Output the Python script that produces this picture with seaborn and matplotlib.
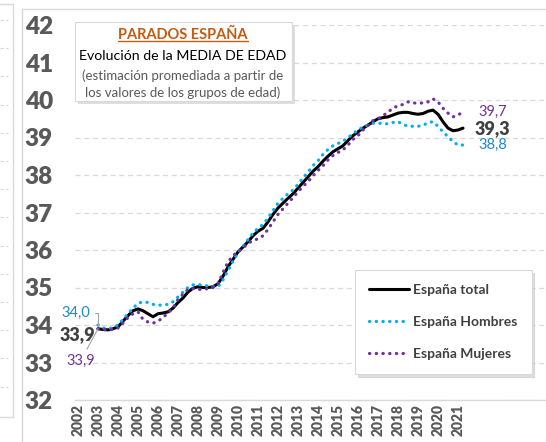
"""
Parados España: evolución de la media de edad (total, hombres, mujeres).
"""

import numpy as np
import pandas as pd
import matplotlib
matplotlib.use("Agg")
import matplotlib.pyplot as plt
import seaborn as sns
from matplotlib.patches import Rectangle
from matplotlib.lines import Line2D

# quarterly values, first quarter of 2003 onwards
start_year = 2003
total = [
    33.90, 33.88, 33.87, 33.90,  # 2003
    33.95, 34.10, 34.25, 34.38,  # 2004
    34.43, 34.38, 34.30, 34.22,  # 2005
    34.30, 34.32, 34.35, 34.45,  # 2006
    34.60, 34.72, 34.88, 34.98,  # 2007
    35.02, 35.00, 35.00, 35.02,  # 2008
    35.10, 35.30, 35.55, 35.75,  # 2009
    35.95, 36.08, 36.22, 36.38,  # 2010
    36.50, 36.58, 36.75, 36.95,  # 2011
    37.12, 37.25, 37.38, 37.50,  # 2012
    37.65, 37.80, 37.95, 38.10,  # 2013
    38.22, 38.37, 38.50, 38.62,  # 2014
    38.70, 38.78, 38.92, 39.05,  # 2015
    39.15, 39.25, 39.33, 39.42,  # 2016
    39.50, 39.53, 39.55, 39.60,  # 2017
    39.65, 39.67, 39.67, 39.64,  # 2018
    39.62, 39.64, 39.70, 39.73,  # 2019
    39.62, 39.42, 39.25, 39.18,  # 2020
    39.20, 39.25,                # 2021
]
hombres = [
    34.00, 33.92, 33.90, 33.93,
    34.00, 34.15, 34.30, 34.45,
    34.58, 34.62, 34.60, 34.55,
    34.53, 34.53, 34.55, 34.62,
    34.75, 34.88, 35.00, 35.07,
    35.08, 35.06, 35.04, 35.02,
    35.02, 35.20, 35.45, 35.70,
    35.95, 36.10, 36.28, 36.45,
    36.58, 36.68, 36.85, 37.05,
    37.25, 37.38, 37.50, 37.60,
    37.75, 37.92, 38.08, 38.25,
    38.38, 38.55, 38.68, 38.78,
    38.84, 38.90, 39.00, 39.10,
    39.20, 39.28, 39.33, 39.38,
    39.38, 39.38, 39.36, 39.40,
    39.42, 39.35, 39.30, 39.30,
    39.30, 39.32, 39.40, 39.42,
    39.30, 39.15, 39.02, 38.89,
    38.80, 38.80,
]
mujeres = [
    33.90, 33.88, 33.87, 33.88,
    33.92, 34.05, 34.20, 34.30,
    34.35, 34.15, 34.08, 34.05,
    34.10, 34.20, 34.32, 34.45,
    34.68, 34.82, 34.95, 34.97,
    34.95, 34.95, 34.97, 35.00,
    35.10, 35.40, 35.68, 35.85,
    35.95, 36.05, 36.18, 36.25,
    36.30, 36.38, 36.55, 36.75,
    36.95, 37.10, 37.25, 37.40,
    37.55, 37.70, 37.82, 37.98,
    38.12, 38.25, 38.40, 38.52,
    38.60, 38.67, 38.80, 38.95,
    39.05, 39.20, 39.32, 39.45,
    39.50, 39.58, 39.68, 39.78,
    39.85, 39.88, 39.95, 39.92,
    39.92, 39.92, 39.95, 40.03,
    39.95, 39.78, 39.65, 39.55,
    39.60, 39.68,
]

series_names = ["España total", "España Hombres", "España Mujeres"]
start_labels = ["33,9", "34,0", "33,9"]
end_labels = ["39,3", "38,8", "39,7"]
year_ticks = list(range(2002, 2022))
age_ticks = list(range(32, 43))

title_lines = ["PARADOS ESPAÑA",
               "Evolución de la MEDIA DE EDAD",
               "(estimación promediada a partir de",
               "los valores de los grupos de edad)"]

# colours
C_TOTAL = "black"
C_HOM = "#00B0F0"
C_MUJ = "#7030A0"
C_HOM_TXT = "#1E88D2"
C_TXT = "#595959"
C_GRID = "#D9D9D9"

W, H = 546, 442

sns.set_theme(style="white")
plt.rcParams["font.family"] = ["Lato", "DejaVu Sans"]


def fx(px):
    return px / W


def fy(py):
    return 1 - py / H


df = pd.DataFrame({
    "fecha": np.tile(start_year + np.arange(len(total)) / 4, 3),
    "edad": np.concatenate([total, hombres, mujeres]),
    "serie": np.repeat(series_names, len(total)),
})

fig = plt.figure(figsize=(W / 100, H / 100), dpi=100)
ax = fig.add_axes([fx(75), fy(400), fx(546) - fx(75), fy(25) - fy(400)])

dotted = (0, (0.1, 2.0))
styles = {
    "España total": dict(color=C_TOTAL, lw=2.2, ls="-"),
    "España Hombres": dict(color=C_HOM, lw=2.3, ls=dotted, dash_capstyle="round"),
    "España Mujeres": dict(color=C_MUJ, lw=2.3, ls=dotted, dash_capstyle="round"),
}
for name in series_names:
    sub = df[df["serie"] == name]
    sns.lineplot(data=sub, x="fecha", y="edad", ax=ax, label=name, **styles[name])

ax.set_xlim(2001.85, 2025.4)
ax.set_ylim(32, 42)
ax.set_xticks(year_ticks)
ax.set_xticklabels([str(y) for y in year_ticks], rotation=90, va="top")
ax.set_yticks(age_ticks)
ax.set_yticklabels([str(v) for v in age_ticks])
for lbl in ax.get_xticklabels():
    lbl.set_fontsize(10)
    lbl.set_fontweight("heavy")
    lbl.set_color(C_TXT)
for lbl in ax.get_yticklabels():
    lbl.set_fontsize(17.5)
    lbl.set_fontweight("heavy")
    lbl.set_color(C_TXT)
ax.tick_params(axis="y", length=0, pad=16)
ax.tick_params(axis="x", length=0, pad=3)
ax.set_xlabel("")
ax.set_ylabel("")

ax.yaxis.grid(True, color=C_GRID, ls=(0, (4, 3)), lw=0.9)
ax.set_axisbelow(True)
for side in ["top", "right", "left"]:
    ax.spines[side].set_visible(False)
ax.spines["bottom"].set_color(C_GRID)
ax.spines["bottom"].set_linewidth(1.0)

# end labels
last_x = start_year + (len(total) - 1) / 4
ax.annotate(end_labels[2], xy=(last_x, mujeres[-1]), xytext=(15, 0),
            textcoords="offset pixels", ha="left", va="center",
            color=C_MUJ, fontsize=10.5)
ax.annotate(end_labels[0], xy=(last_x, total[-1]), xytext=(12, 0),
            textcoords="offset pixels", ha="left", va="center",
            color="#404040", fontsize=13, fontweight="heavy")
ax.annotate(end_labels[1], xy=(last_x, hombres[-1]), xytext=(15, 0),
            textcoords="offset pixels", ha="left", va="center",
            color=C_HOM_TXT, fontsize=10.5)

# start labels
leader = dict(arrowstyle="-", color="#A6A6A6", lw=0.8, shrinkA=1, shrinkB=0)
ax.annotate(start_labels[1], xy=(start_year, hombres[0]), xytext=(-8, 12),
            textcoords="offset pixels", ha="right", va="center",
            color=C_HOM_TXT, fontsize=10.5,
            arrowprops=dict(connectionstyle="angle,angleA=0,angleB=90,rad=0", **leader))
ax.annotate(start_labels[0], xy=(start_year, total[0]), xytext=(-3, -6),
            textcoords="offset pixels", ha="right", va="center",
            color="#404040", fontsize=13, fontweight="heavy")
ax.annotate(start_labels[2], xy=(start_year, mujeres[0]), xytext=(-3, -32),
            textcoords="offset pixels", ha="right", va="center",
            color=C_MUJ, fontsize=10.5,
            arrowprops=dict(**leader))

# legend
leg = ax.legend(loc="upper left", bbox_to_anchor=(fx(355), fy(270)),
                bbox_transform=fig.transFigure, frameon=True, fancybox=False,
                shadow={"color": "#C8C8C8", "alpha": 0.6},
                prop={"size": 10, "weight": "bold"}, labelcolor="#404040",
                handlelength=2.9, handletextpad=0.3, labelspacing=1.45,
                borderpad=1.0, borderaxespad=0)
leg.get_frame().set_edgecolor(C_GRID)
leg.get_frame().set_linewidth(0.8)

# title box
fig.patches.append(Rectangle((fx(78), fy(104)), fx(292) - fx(75), fy(22) - fy(101),
                             transform=fig.transFigure, facecolor="#C8C8C8",
                             alpha=0.6, edgecolor="none", zorder=4))
fig.patches.append(Rectangle((fx(75), fy(101)), fx(292) - fx(75), fy(22) - fy(101),
                             transform=fig.transFigure, facecolor="white",
                             edgecolor=C_GRID, lw=0.8, zorder=5))
cx = fx(183)
t0 = fig.text(cx, fy(35), title_lines[0], ha="center", va="center", fontsize=10.5,
              fontweight="bold", color="#C55A11", zorder=6)
fig.text(cx, fy(56), title_lines[1], ha="center", va="center", fontsize=10.2,
         color="black", zorder=6)
fig.text(cx, fy(76), title_lines[2], ha="center", va="center", fontsize=9.5,
         color=C_TXT, zorder=6)
fig.text(cx, fy(93), title_lines[3], ha="center", va="center", fontsize=9.5,
         color=C_TXT, zorder=6)

fig.canvas.draw()
bb = t0.get_window_extent().transformed(fig.transFigure.inverted())
fig.lines.append(Line2D([bb.x0, bb.x1], [bb.y0 + 0.002, bb.y0 + 0.002],
                        transform=fig.transFigure, color="#C55A11", lw=1.0, zorder=6))

# chart frames (this chart and the neighbouring one)
frame = dict(transform=fig.transFigure, color=C_GRID, lw=1.0)
fig.lines.append(Line2D([fx(22), fx(22)], [fy(9), 0], **frame))
fig.lines.append(Line2D([fx(22), 1], [fy(9), fy(9)], **frame))
fig.lines.append(Line2D([fx(13), fx(13)], [fy(4), fy(417)], **frame))
fig.lines.append(Line2D([0, fx(13)], [fy(417), fy(417)], **frame))
fig.lines.append(Line2D([0, fx(13)], [fy(4), fy(4)], **frame))
for py in np.arange(20, 400, 28.2):
    fig.lines.append(Line2D([0, fx(8)], [fy(py), fy(py)], transform=fig.transFigure,
                            color=C_GRID, lw=0.8, ls=(0, (3, 2))))

fig.savefig("out.png", dpi=100)
